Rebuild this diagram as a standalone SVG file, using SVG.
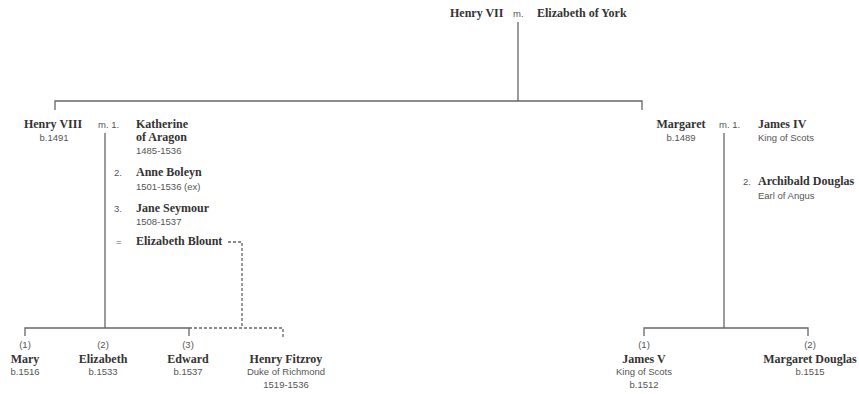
<svg xmlns="http://www.w3.org/2000/svg" width="859" height="394" viewBox="0 0 859 394">
<style>
.n{font-family:"Liberation Serif","Times New Roman",serif;font-weight:bold;font-size:12px;fill:#333}
.s{font-family:"Liberation Sans",Arial,sans-serif;font-size:9.5px;fill:#555}
.m{text-anchor:middle}
.l{stroke:#666;stroke-width:1.3;fill:none}
.d{stroke:#666;stroke-width:1.3;fill:none;stroke-dasharray:3 2}
</style>
<rect width="859" height="394" fill="#fff"/>
<g id="connectors">
<path class="l" d="M518 22V101M55 110V101H642V110"/>
<path class="l" d="M105 133V328M25 336V328H189V336"/>
<path class="d" d="M189 328H283V338M228 242H242V328"/>
<path class="l" d="M724 133V328M644 336V328H808V336"/>
</g>
<g id="henry7"><text class="n" x="450" y="17">Henry VII</text><text class="s" x="513" y="17">m.</text><text class="n" x="537" y="17">Elizabeth of York</text></g>
<g id="henry8"><text class="n m" x="53" y="128">Henry VIII</text><text class="s m" x="54" y="141">b.1491</text><text class="s" x="98" y="128">m.  1.</text></g>
<g id="katherine"><text class="n" x="136" y="128">Katherine</text><text class="n" x="136" y="141">of Aragon</text><text class="s" x="136" y="154">1485-1536</text></g>
<g id="anne"><text class="s" x="114" y="176">2.</text><text class="n" x="136" y="176">Anne Boleyn</text><text class="s" x="136" y="190">1501-1536 (ex)</text></g>
<g id="jane"><text class="s" x="114" y="212">3.</text><text class="n" x="136" y="212">Jane Seymour</text><text class="s" x="136" y="225">1508-1537</text></g>
<g id="blount"><text class="s" x="116" y="245">=</text><text class="n" x="136" y="245">Elizabeth Blount</text></g>
<g id="margaret"><text class="n m" x="681" y="128">Margaret</text><text class="s m" x="681" y="141">b.1489</text><text class="s" x="719" y="128">m.  1.</text></g>
<g id="james4"><text class="n" x="758" y="128">James IV</text><text class="s" x="758" y="141">King of Scots</text></g>
<g id="archibald"><text class="s" x="743" y="185">2.</text><text class="n" x="758" y="185">Archibald Douglas</text><text class="s" x="758" y="199">Earl of Angus</text></g>
<g id="mary"><text class="s m" x="25" y="348">(1)</text><text class="n m" x="25" y="363">Mary</text><text class="s m" x="25" y="375">b.1516</text></g>
<g id="elizabeth"><text class="s m" x="103" y="348">(2)</text><text class="n m" x="103" y="363">Elizabeth</text><text class="s m" x="103" y="375">b.1533</text></g>
<g id="edward"><text class="s m" x="188" y="348">(3)</text><text class="n m" x="188" y="363">Edward</text><text class="s m" x="188" y="375">b.1537</text></g>
<g id="fitzroy"><text class="n m" x="286" y="363">Henry Fitzroy</text><text class="s m" x="286" y="375">Duke of Richmond</text><text class="s m" x="286" y="388">1519-1536</text></g>
<g id="james5"><text class="s m" x="644" y="348">(1)</text><text class="n m" x="644" y="363">James V</text><text class="s m" x="644" y="375">King of Scots</text><text class="s m" x="644" y="388">b.1512</text></g>
<g id="mdouglas"><text class="s m" x="810" y="348">(2)</text><text class="n m" x="810" y="363">Margaret Douglas</text><text class="s m" x="810" y="375">b.1515</text></g>
</svg>
